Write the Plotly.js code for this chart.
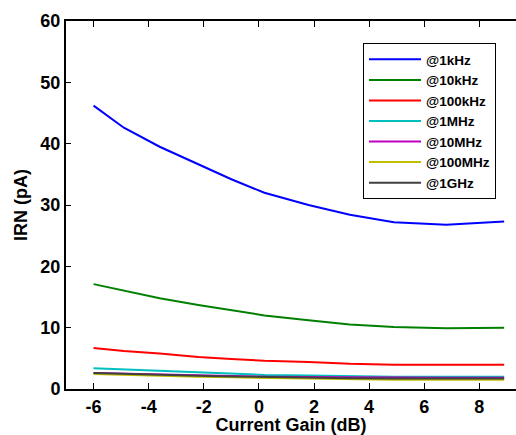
<!DOCTYPE html>
<html>
<head>
<meta charset="utf-8">
<script src="https://cdn.plot.ly/plotly-3.0.1.min.js"></script>
<style>html,body{margin:0;padding:0;background:#fff;}#chart{width:516px;height:435px;}</style>
</head>
<body>
<div id="chart"></div>
<script>
const gain = [-6, -4.9, -3.6, -2.2, -1.0, 0.2, 1.8, 3.3, 4.9, 6.8, 8.9];
const irn1kHz   = [46.2, 42.6, 39.5, 36.6, 34.2, 32.0, 30.0, 28.4, 27.2, 26.8, 27.3];
const irn10kHz  = [17.1, 16.0, 14.8, 13.7, 12.8, 12.0, 11.2, 10.5, 10.1, 9.9, 10.0];
const irn100kHz = [6.7, 6.2, 5.8, 5.2, 4.9, 4.6, 4.4, 4.1, 3.95, 3.95, 3.95];
const irn1MHz   = [3.4, 3.2, 2.9, 2.7, 2.5, 2.3, 2.2, 2.1, 2.0, 2.0, 2.0];
const irn10MHz  = [2.6, 2.5, 2.3, 2.2, 2.1, 2.0, 1.95, 1.9, 1.85, 1.85, 1.85];
const irn100MHz = [2.45, 2.3, 2.15, 2.0, 1.9, 1.8, 1.7, 1.6, 1.5, 1.5, 1.5];
const irn1GHz   = [2.6, 2.45, 2.25, 2.15, 2.05, 1.95, 1.85, 1.75, 1.7, 1.7, 1.7];
const seriesNames = ['@1kHz', '@10kHz', '@100kHz', '@1MHz', '@10MHz', '@100MHz', '@1GHz'];
const xTicks = [-6, -4, -2, 0, 2, 4, 6, 8];
const yTicks = [0, 10, 20, 30, 40, 50, 60];

const seriesData = [irn1kHz, irn10kHz, irn100kHz, irn1MHz, irn10MHz, irn100MHz, irn1GHz];
const colors = ['#0000ff', '#008000', '#ff0000', '#00bfbf', '#bf00bf', '#bfbf00', '#404040'];

const traces = seriesData.map((ys, i) => ({
  x: gain, y: ys, name: '<b>' + seriesNames[i] + '</b>', type: 'scatter', mode: 'lines',
  line: {color: colors[i], width: 2}
}));

const font = {family: 'Liberation Sans, Arial, sans-serif', size: 18, color: '#000', weight: 'bold'};

const layout = {
  width: 516, height: 435,
  margin: {l: 66, r: 0, t: 21, b: 46},
  paper_bgcolor: '#fff', plot_bgcolor: '#fff',
  font: font,
  showlegend: true,
  legend: {
    x: 0.66, y: 0.94, xanchor: 'left', yanchor: 'top',
    bgcolor: '#fff', bordercolor: '#000', borderwidth: 1,
    font: {family: 'Liberation Sans, Arial, sans-serif', size: 13.5, color: '#000', weight: 'bold'},
    itemwidth: 52, tracegroupgap: 0
  },
  xaxis: {
    range: [-7, 9.33], tickvals: xTicks, ticktext: xTicks.map(String),
    showgrid: false, zeroline: false, showline: true, linecolor: '#000', linewidth: 2,
    mirror: 'ticks', ticks: 'inside', ticklen: 6, tickwidth: 1, tickcolor: '#000',
    title: {text: 'Current Gain (dB)', font: font, standoff: 6},
    tickfont: font
  },
  yaxis: {
    range: [0, 60], tickvals: yTicks, ticktext: yTicks.map(String),
    showgrid: false, zeroline: false, showline: true, linecolor: '#000', linewidth: 2,
    ticks: 'inside', ticklen: 5, tickwidth: 1, tickcolor: '#000',
    title: {text: 'IRN (pA)', font: font, standoff: 8},
    tickfont: font
  }
};

Plotly.newPlot('chart', traces, layout, {displayModeBar: false, staticPlot: true});
</script>
</body>
</html>
